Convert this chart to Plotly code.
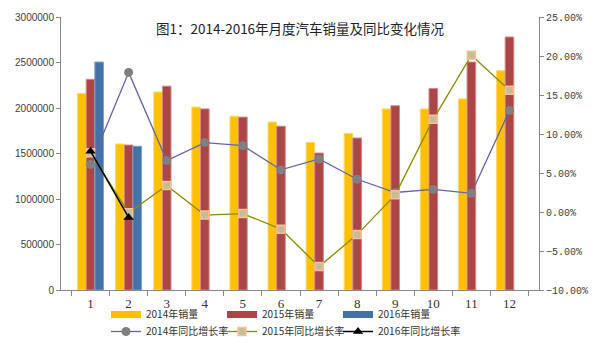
import plotly.graph_objects as go

months = [str(m) for m in range(1, 13)]

sales_2014 = [2160000, 1604000, 2176000, 2010000, 1910000, 1846000,
              1620000, 1720000, 1990000, 1990000, 2100000, 2410000]
sales_2015 = [2315000, 1593000, 2240000, 1990000, 1900000, 1800000,
              1505000, 1670000, 2025000, 2215000, 2505000, 2780000]
sales_2016 = [2505000, 1580000] + [None] * 10

growth_2014 = [6.1, 17.9, 6.6, 8.9, 8.5, 5.4, 6.8, 4.2, 2.5, 2.9, 2.4, 13.0]
growth_2015 = [7.6, -0.1, 3.4, -0.4, -0.2, -2.2, -7.0, -2.9, 2.2, 11.9, 20.1, 15.6]
growth_2016 = [7.8, -0.7] + [None] * 10

bar_names = ["2014年销量", "2015年销量", "2016年销量"]
line_names = ["2014年同比增长率", "2015年同比增长率", "2016年同比增长率"]

bar_colors = ["#FFC000", "#AA4645", "#4472A8"]
bar_edges = ["#FFD966", "#D08A88", "#7F9FCB"]

# one legend per entry so each can sit in its own column
legend_cols_px = [106, 222, 338]
legend_rows_px = [300, 317]

fig = go.Figure()

for i, (name, vals, col, edge) in enumerate(zip(bar_names, [sales_2014, sales_2015, sales_2016],
                                                bar_colors, bar_edges)):
    fig.add_trace(go.Bar(
        x=months, y=vals, name=name, marker=dict(color=col, line=dict(color=edge, width=1)),
        showlegend=False, yaxis="y",
    ))
    # legend swatch drawn as a thick stroke
    fig.add_trace(go.Scatter(
        x=[None], y=[None], mode="lines", name=name,
        line=dict(color=col, width=7), legend=f"legend{i + 1}" if i else "legend", yaxis="y",
    ))

line_styles = [
    dict(line=dict(color="#6366A8", width=1.3),
         marker=dict(symbol="circle", size=9, color="#808080", line=dict(color="#808080", width=0))),
    dict(line=dict(color="#8C8A00", width=1.3),
         marker=dict(symbol="square", size=8, color="#C4BD97", line=dict(color="#FAC090", width=1.5))),
    dict(line=dict(color="#000000", width=1.5),
         marker=dict(symbol="triangle-up", size=9, color="#000000")),
]

for i, (name, vals, st) in enumerate(zip(line_names, [growth_2014, growth_2015, growth_2016],
                                         line_styles)):
    fig.add_trace(go.Scatter(
        x=months, y=vals, name=name, mode="lines+markers",
        yaxis="y2", legend=f"legend{i + 4}", **st,
    ))

legend_common = dict(
    orientation="h", xref="container", yref="container", xanchor="left", yanchor="top",
    itemwidth=30, tracegroupgap=0,
    font=dict(family="Noto Sans CJK SC", size=10, color="#333333"),
    bgcolor="rgba(0,0,0,0)",
)

legends = {}
for r, ypx in enumerate(legend_rows_px):
    for c, xpx in enumerate(legend_cols_px):
        k = r * 3 + c + 1
        key = "legend" if k == 1 else f"legend{k}"
        legends[key] = dict(x=xpx / 605, y=1 - ypx / 345, **legend_common)

fig.update_layout(
    width=605, height=345,
    margin=dict(l=61, r=66, t=17, b=55, autoexpand=False),
    paper_bgcolor="white", plot_bgcolor="white",
    barmode="group", bargap=0.32, bargroupgap=0,
    font=dict(family="Noto Sans CJK SC", color="#404040"),
    xaxis=dict(
        type="category", showgrid=False, showline=True, linecolor="#888888", linewidth=1,
        ticks="outside", tickson="boundaries", ticklen=5, tickcolor="#888888",
        ticklabelstandoff=1,
        tickfont=dict(family="Liberation Serif", size=13, color="#333333"),
    ),
    yaxis=dict(
        range=[0, 3000000], dtick=500000, tickformat="d", showgrid=False, zeroline=False,
        showline=True, linecolor="#888888", linewidth=1, ticks="outside", ticklen=4,
        tickcolor="#888888", tickfont=dict(family="Liberation Sans", size=10, color="#404040"),
    ),
    yaxis2=dict(
        range=[-10, 25], dtick=5, tickformat=".2f", ticksuffix="%", overlaying="y",
        side="right", showgrid=False, zeroline=False, showline=True, linecolor="#888888",
        linewidth=1, ticks="outside", ticklen=4, tickcolor="#888888",
        tickfont=dict(family="Liberation Mono", size=10, color="#404040"),
    ),
    annotations=[dict(
        text="图1：2014-2016年月度汽车销量及同比变化情况", xref="paper", yref="paper",
        x=0.5, y=0.958, xanchor="center", yanchor="middle", showarrow=False,
        font=dict(family="Noto Sans CJK SC", size=13.5, color="#222222"),
    )],
    **legends,
)

fig.write_html("out.html")
